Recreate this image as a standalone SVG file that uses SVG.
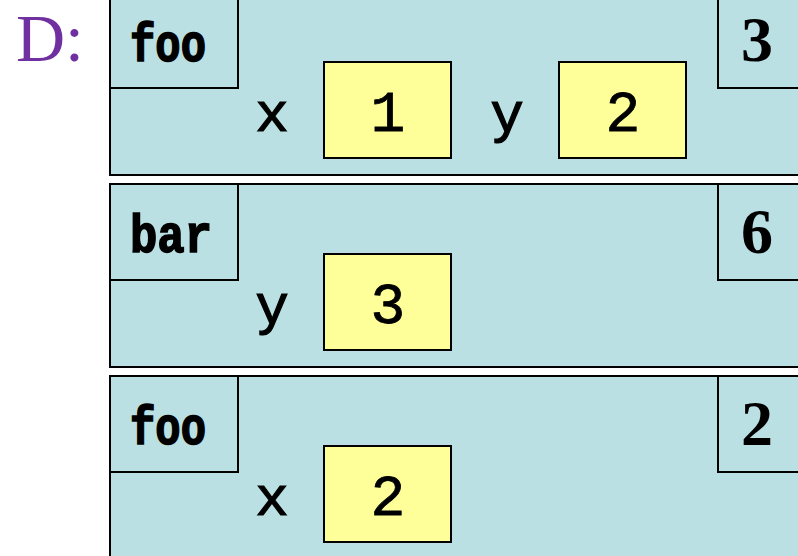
<svg xmlns="http://www.w3.org/2000/svg" width="798" height="556" viewBox="0 0 798 556">
<style>
.frame{fill:#BAE0E3;stroke:#000;stroke-width:2}
.tab{fill:none;stroke:#000;stroke-width:2}
.val{fill:#FFFF99;stroke:#000;stroke-width:2}
.name{font-family:"Liberation Mono",monospace;font-weight:bold;font-size:54px;fill:#000;stroke:#000;stroke-width:1.6}
.num{font-family:"Liberation Serif",serif;font-weight:bold;font-size:64px;fill:#000;text-anchor:middle}
.var{font-family:"Liberation Mono",monospace;font-size:56px;fill:#000;stroke:#000;stroke-width:1.2;text-anchor:middle}
.v{font-family:"Liberation Mono",monospace;font-size:58px;fill:#000;stroke:#000;stroke-width:0.8;text-anchor:middle}
</style>
<rect width="798" height="556" fill="#fff"/>
<text x="16" y="61" font-family="Liberation Serif,serif" font-size="68" fill="#7030A0">D:</text>
<g id="frame1">
<rect class="frame" x="110" y="-8" width="700" height="183"/>
<path class="tab" d="M110 88H238V-8M718 -8V88H800"/>
<text class="name" x="130" y="61" textLength="76" lengthAdjust="spacingAndGlyphs">foo</text>
<text class="num" x="757" y="61">3</text>
<text class="var" x="272" y="131">x</text>
<rect class="val" x="324" y="62" width="127" height="96"/>
<text class="v" x="388" y="131">1</text>
<text class="var" x="507" y="131">y</text>
<rect class="val" x="559" y="62" width="127" height="96"/>
<text class="v" x="623" y="131">2</text>
</g>
<g id="frame2">
<rect class="frame" x="110" y="184" width="700" height="183"/>
<path class="tab" d="M110 280H238V184M718 184V280H800"/>
<text class="name" x="130" y="252" textLength="82" lengthAdjust="spacingAndGlyphs">bar</text>
<text class="num" x="757" y="253">6</text>
<text class="var" x="272" y="323">y</text>
<rect class="val" x="324" y="254" width="127" height="96"/>
<text class="v" x="388" y="323">3</text>
</g>
<g id="frame3">
<rect class="frame" x="110" y="376" width="700" height="190"/>
<path class="tab" d="M110 472H238V376M718 376V472H800"/>
<text class="name" x="130" y="444" textLength="76" lengthAdjust="spacingAndGlyphs">foo</text>
<text class="num" x="757" y="445">2</text>
<text class="var" x="272" y="515">x</text>
<rect class="val" x="324" y="446" width="127" height="96"/>
<text class="v" x="388" y="515">2</text>
</g>
</svg>
